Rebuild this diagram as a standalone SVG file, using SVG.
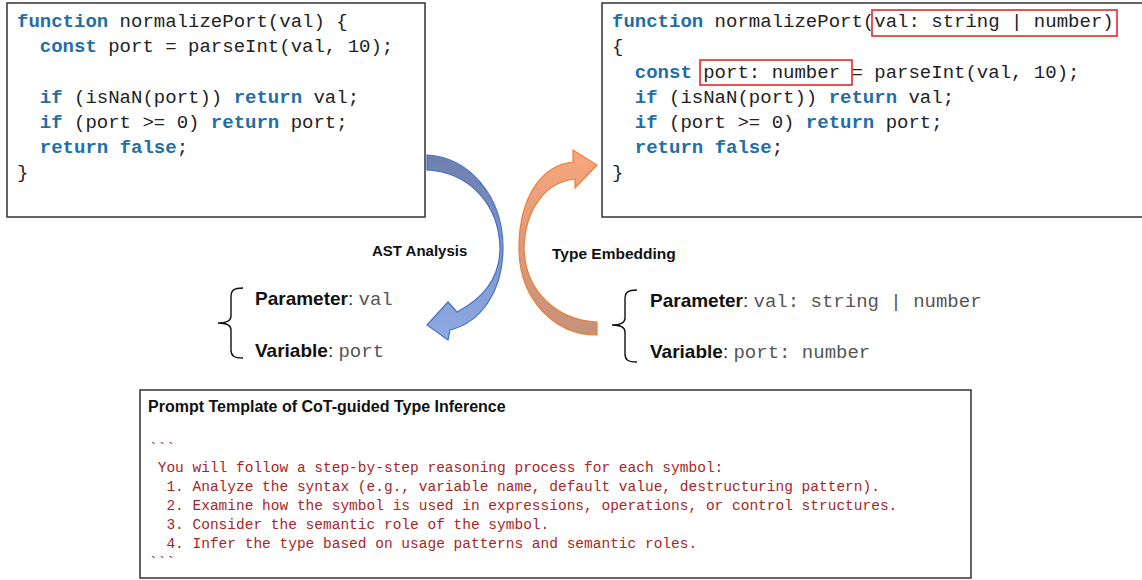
<svg xmlns="http://www.w3.org/2000/svg" width="1142" height="580" viewBox="0 0 1142 580">
<style>
.box{fill:#fff;stroke:#333;stroke-width:1.5}
.code{font-family:"Liberation Mono","DejaVu Sans Mono",monospace;font-size:19px;fill:#222}
.kw{font-weight:bold;fill:#1f6ea6}
.hl{fill:none;stroke:#e8262a;stroke-width:1.6}
.lab{font-family:"Liberation Sans",Arial,sans-serif;font-size:15px;font-weight:bold;fill:#111}
.sym{font-family:"Liberation Sans",Arial,sans-serif;font-size:19px;fill:#222}
.symb{font-weight:bold;fill:#111}
.mono{font-family:"Liberation Mono","DejaVu Sans Mono",monospace;fill:#555;font-size:19px}
.brace{fill:none;stroke:#111;stroke-width:1.4}
.title{font-family:"Liberation Sans",Arial,sans-serif;font-size:16px;font-weight:bold;fill:#111}
.prompt{font-family:"Liberation Mono","DejaVu Sans Mono",monospace;font-size:14.5px;fill:#a82525}
</style>
<defs>
<linearGradient id="gBlue" gradientUnits="userSpaceOnUse" x1="0" y1="155" x2="0" y2="340">
<stop offset="0" stop-color="#6f7fad"/>
<stop offset="1" stop-color="#8eaae4"/>
</linearGradient>
<linearGradient id="gOrange" gradientUnits="userSpaceOnUse" x1="0" y1="150" x2="0" y2="335">
<stop offset="0" stop-color="#f9a67c"/>
<stop offset="1" stop-color="#c3917b"/>
</linearGradient>
</defs>
<rect width="1142" height="580" fill="#fff"/>

<g id="original-code">
<rect class="box" x="7" y="3" width="418" height="214"/>
<text class="code" x="17" y="27"><tspan class="kw">function</tspan> normalizePort(val) {</text>
<text class="code" x="39.8" y="52"><tspan class="kw">const</tspan> port = parseInt(val, 10);</text>
<text class="code" x="39.8" y="103"><tspan class="kw">if</tspan> (isNaN(port)) <tspan class="kw">return</tspan> val;</text>
<text class="code" x="39.8" y="128"><tspan class="kw">if</tspan> (port &gt;= 0) <tspan class="kw">return</tspan> port;</text>
<text class="code" x="39.8" y="153"><tspan class="kw">return</tspan> <tspan class="kw">false</tspan>;</text>
<text class="code" x="17" y="178">}</text>
</g>

<g id="typed-code">
<rect class="box" x="602" y="3" width="545" height="214"/>
<text class="code" x="612" y="27"><tspan class="kw">function</tspan> normalizePort(val: string | number)</text>
<text class="code" x="612" y="52">{</text>
<text class="code" x="634.8" y="78"><tspan class="kw">const</tspan> port: number = parseInt(val, 10);</text>
<text class="code" x="634.8" y="103"><tspan class="kw">if</tspan> (isNaN(port)) <tspan class="kw">return</tspan> val;</text>
<text class="code" x="634.8" y="128"><tspan class="kw">if</tspan> (port &gt;= 0) <tspan class="kw">return</tspan> port;</text>
<text class="code" x="634.8" y="153"><tspan class="kw">return</tspan> <tspan class="kw">false</tspan>;</text>
<text class="code" x="612" y="178">}</text>
<rect class="hl" x="872" y="10" width="245" height="26"/>
<rect class="hl" x="700" y="60" width="152" height="25"/>
</g>

<g id="connectors">
<path d="M427,155 C468,157 503,195 503,248 C503,290 482,322 450,330 L448,340 L427,325 L448,302 L457,312 C484,298 500,277 500,248 C499,203 468,172 427,170 Z" fill="url(#gBlue)" stroke="#4472c4" stroke-width="1.2"/>
<path d="M597,322 C555,320 525,290 524,248 C525,210 545,182 575,179 L575,188 L597,165 L573,150 L573,162 C540,165 519,200 519,248 C519,300 555,335 597,335 Z" fill="url(#gOrange)" stroke="#ed7d31" stroke-width="1.2"/>
<text class="lab" x="372" y="256">AST Analysis</text>
<text class="lab" x="552" y="259" style="font-size:15.5px">Type Embedding</text>
</g>

<g id="symbols-left">
<path class="brace" d="M243,288 C234,288 231,290 231,297 L231,316 C231,321 227,323 218,323 C227,323 231,325 231,330 L231,350 C231,356 234,358 243,358"/>
<text class="sym" x="255" y="305"><tspan class="symb">Parameter</tspan>: <tspan class="mono">val</tspan></text>
<text class="sym" x="255" y="357"><tspan class="symb">Variable</tspan>: <tspan class="mono">port</tspan></text>
</g>

<g id="symbols-right">
<path class="brace" d="M637,290 C628,290 625,292 625,299 L625,318 C625,323 621,325 612,325 C621,325 625,327 625,332 L625,354 C625,360 628,362 637,362"/>
<text class="sym" x="650" y="307"><tspan class="symb">Parameter</tspan>: <tspan class="mono">val: string | number</tspan></text>
<text class="sym" x="650" y="358"><tspan class="symb">Variable</tspan>: <tspan class="mono">port: number</tspan></text>
</g>

<g id="prompt-template">
<rect class="box" x="140" y="390" width="831" height="188"/>
<text class="title" x="148" y="412">Prompt Template of CoT-guided Type Inference</text>
<text class="prompt" x="149" y="453">```</text>
<text class="prompt" x="157.7" y="472">You will follow a step-by-step reasoning process for each symbol:</text>
<text class="prompt" x="166.4" y="491">1. Analyze the syntax (e.g., variable name, default value, destructuring pattern).</text>
<text class="prompt" x="166.4" y="510">2. Examine how the symbol is used in expressions, operations, or control structures.</text>
<text class="prompt" x="166.4" y="529">3. Consider the semantic role of the symbol.</text>
<text class="prompt" x="166.4" y="548">4. Infer the type based on usage patterns and semantic roles.</text>
<text class="prompt" x="149" y="567">```</text>
</g>
</svg>
